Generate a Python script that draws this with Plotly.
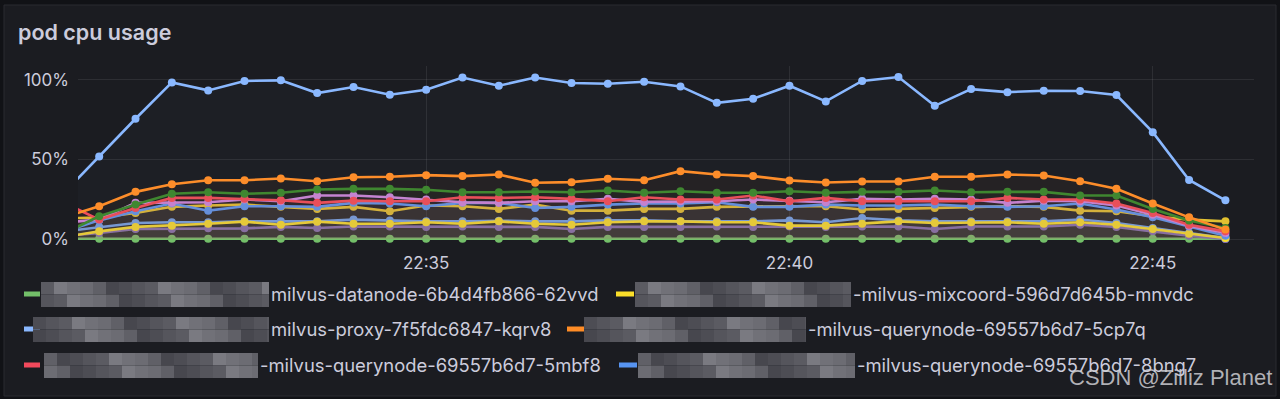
import plotly.graph_objects as go

# ---------------- data ----------------
times = [
    "2024-01-01 22:30:00", "2024-01-01 22:30:30", "2024-01-01 22:31:00", "2024-01-01 22:31:30",
    "2024-01-01 22:32:00", "2024-01-01 22:32:30", "2024-01-01 22:33:00", "2024-01-01 22:33:30",
    "2024-01-01 22:34:00", "2024-01-01 22:34:30", "2024-01-01 22:35:00", "2024-01-01 22:35:30",
    "2024-01-01 22:36:00", "2024-01-01 22:36:30", "2024-01-01 22:37:00", "2024-01-01 22:37:30",
    "2024-01-01 22:38:00", "2024-01-01 22:38:30", "2024-01-01 22:39:00", "2024-01-01 22:39:30",
    "2024-01-01 22:40:00", "2024-01-01 22:40:30", "2024-01-01 22:41:00", "2024-01-01 22:41:30",
    "2024-01-01 22:42:00", "2024-01-01 22:42:30", "2024-01-01 22:43:00", "2024-01-01 22:43:30",
    "2024-01-01 22:44:00", "2024-01-01 22:44:30", "2024-01-01 22:45:00", "2024-01-01 22:45:30",
    "2024-01-01 22:46:00",
]

datanode = [0.2, 0.2, 0.2, 0.2, 0.2, 0.2, 0.2, 0.2, 0.2, 0.2, 0.2, 0.2, 0.2, 0.2, 0.2, 0.2, 0.2,
            0.2, 0.2, 0.2, 0.2, 0.2, 0.2, 0.2, 0.2, 0.2, 0.2, 0.2, 0.2, 0.2, 0.2, 0.2, 0.2]
mixcoord = [1.2, 4.8, 7.6, 8.4, 9.6, 10.9, 9.0, 10.9, 9.6, 9.6, 10.5, 9.6, 11.1, 9.6, 9.0, 10.5, 11.1,
            11.1, 10.5, 10.5, 8.4, 8.4, 9.6, 11.1, 10.1, 10.5, 10.5, 9.6, 10.5, 9.0, 6.3, 3.3, 0.6]
proxy = [28.3, 51.8, 75.5, 98.3, 93.3, 99.2, 99.6, 91.6, 95.4, 90.6, 93.7, 101.4, 96.2, 101.4, 97.9, 97.5,
         98.7, 95.8, 85.5, 88.1, 96.2, 86.4, 99.2, 101.7, 83.6, 94.1, 92.2, 93.1, 92.9, 90.4, 67.1, 37.1, 24.3]
qn_5cp7q = [13.4, 20.6, 29.6, 34.4, 36.9, 36.9, 38.0, 36.3, 38.8, 39.1, 40.1, 39.5, 40.5, 35.3, 35.7, 37.8,
            36.9, 42.6, 40.5, 39.5, 36.8, 35.5, 36.1, 36.1, 39.1, 39.1, 40.5, 39.9, 36.3, 31.5, 22.3, 13.6, 5.9]
qn_5mbf8 = [23.1, 12.2, 19.5, 25.8, 25.8, 25.2, 24.3, 22.7, 24.1, 23.7, 23.7, 26.2, 25.8, 26.2, 25.2, 23.7,
            26.2, 24.8, 24.8, 27.3, 23.7, 25.8, 23.7, 23.7, 23.7, 23.7, 25.8, 24.8, 24.8, 22.3, 16.4, 9.0, 4.8]
qn_8bng7 = [4.5, 11.7, 17.4, 22.3, 17.8, 20.6, 20.6, 20.2, 22.7, 22.3, 20.6, 22.7, 22.7, 19.5, 20.2, 21.6,
            22.3, 22.3, 23.1, 20.2, 20.2, 21.6, 21.0, 21.0, 21.6, 20.6, 20.2, 20.6, 22.3, 18.5, 13.6, 7.9, 2.1]
s_dark_green = [3.3, 14.3, 21.6, 28.4, 29.4, 28.4, 29.0, 31.1, 31.5, 31.5, 30.9, 29.4, 29.4, 29.8, 29.4, 30.5,
                29.0, 30.0, 29.0, 29.0, 30.0, 29.0, 29.6, 29.6, 30.5, 29.4, 29.6, 29.6, 27.3, 27.3, 18.9, 11.7, 6.9]
s_violet = [10.3, 12.2, 22.7, 22.7, 23.1, 24.8, 23.7, 27.3, 27.3, 26.2, 24.8, 23.1, 22.7, 23.7, 23.7, 25.2,
            23.3, 23.7, 23.7, 24.8, 24.1, 23.1, 25.2, 24.8, 25.2, 24.8, 22.7, 24.1, 23.7, 21.0, 15.3, 8.4, 3.8]
s_dull_yellow = [13.0, 13.5, 16.4, 20.2, 21.0, 21.6, 20.2, 18.9, 20.2, 17.4, 21.0, 20.6, 18.9, 21.6, 17.8, 17.8,
                 18.9, 18.9, 20.2, 20.6, 20.6, 20.6, 18.5, 18.9, 19.5, 20.2, 20.6, 20.2, 17.8, 17.4, 14.3, 12.2, 11.1]
s_low_blue = [4.7, 7.6, 10.1, 10.5, 10.5, 11.1, 11.1, 11.1, 12.2, 11.7, 11.1, 11.1, 11.5, 11.1, 11.1, 11.7,
              11.7, 11.1, 11.1, 11.1, 11.7, 10.5, 13.2, 11.7, 11.1, 11.1, 11.1, 11.1, 12.2, 10.1, 6.9, 3.8, 0.6]
s_dark_purple = [1.9, 3.8, 6.3, 6.3, 6.7, 6.7, 7.6, 6.9, 7.9, 7.9, 7.6, 7.9, 7.6, 7.6, 6.3, 7.6,
                 7.6, 7.6, 7.9, 7.6, 7.9, 7.6, 7.9, 7.9, 6.3, 7.9, 7.9, 7.9, 9.0, 7.6, 4.8, 2.1, 0.0]

y_tick_vals = [0, 50, 100]
y_tick_text = ["0%", "50%", "100%"]

# draw order: first drawn = bottom
series = [
    ("milvus-datanode-6b4d4fb866-62vvd", datanode, "#73BF69"),
    ("series-dark-purple", s_dark_purple, "#7F66B3"),
    ("series-low-blue", s_low_blue, "#6C9FEF"),
    ("milvus-mixcoord-596d7d645b-mnvdc", mixcoord, "#FADE2A"),
    ("series-dull-yellow", s_dull_yellow, "#E3C12E"),
    ("milvus-querynode-69557b6d7-8bng7", qn_8bng7, "#5794F2"),
    ("series-violet", s_violet, "#C985E0"),
    ("milvus-querynode-69557b6d7-5mbf8", qn_5mbf8, "#F2495C"),
    ("series-dark-green", s_dark_green, "#37872D"),
    ("milvus-querynode-69557b6d7-5cp7q", qn_5cp7q, "#FF8C26"),
    ("milvus-proxy-7f5fdc6847-kqrv8", proxy, "#8AB8FF"),
]

legend_rows = [
    # (marker colour, visible label text)
    ("#73BF69", "milvus-datanode-6b4d4fb866-62vvd"),
    ("#FADE2A", "-milvus-mixcoord-596d7d645b-mnvdc"),
    ("#8AB8FF", "milvus-proxy-7f5fdc6847-kqrv8"),
    ("#FF8C26", "-milvus-querynode-69557b6d7-5cp7q"),
    ("#F2495C", "-milvus-querynode-69557b6d7-5mbf8"),
    ("#5794F2", "-milvus-querynode-69557b6d7-8bng7"),
]

# ---------------- layout geometry ----------------
W, H = 1280, 399
PL, PR, PT, PB = 78, 1254, 66, 243   # plot area in pixels
Y_MIN = -2.5
Y_MAX = Y_MIN + (PB - PT) / 1.593


def hex_rgba(h, a):
    h = h.lstrip("#")
    return f"rgba({int(h[0:2],16)},{int(h[2:4],16)},{int(h[4:6],16)},{a})"


def px(x):
    return (x - PL) / (PR - PL)


def py(y):
    return (PB - y) / (PB - PT)


fig = go.Figure()

for name, vals, col in series:
    alpha = 0.02 if name.startswith("milvus-proxy") else 0.04
    fig.add_trace(go.Scatter(
        x=times, y=vals, name=name, mode="lines+markers",
        line=dict(color=col, width=2.6),
        marker=dict(color=col, size=8),
        fill="tozeroy", fillcolor=hex_rgba(col, alpha),
        showlegend=False,
    ))

TEXT = "#ccccdc"
FONT = "Inter, Roboto, sans-serif"

shapes = []
annotations = []

# panel background
shapes.append(dict(type="rect", xref="paper", yref="paper",
                   x0=px(4), x1=px(1276), y0=py(396), y1=py(5),
                   fillcolor="#1b1c21", line=dict(color="#2a2b31", width=1), layer="below"))

# title
annotations.append(dict(text="pod cpu usage", xref="paper", yref="paper",
                        x=px(16), y=py(32), xanchor="left", yanchor="middle", showarrow=False,
                        font=dict(family=FONT, size=21.5, color=TEXT, weight=600)))

# legend (flow layout, 3 rows)
row_y = [294, 329, 365]
legend_pos = [
    # marker x0, marker x1, mosaic x0, mosaic x1, text x, row
    (24, 40, 41, 269, 269, 0),
    (616, 634, 635, 851, 851, 0),
    (24, 40, 33, 269, 269, 1),
    (567, 584, 584, 806, 806, 1),
    (24, 40, 44, 258, 258, 2),
    (619, 637, 638, 855, 855, 2),
]
shades = ["#5b5b62", "#6c6c73", "#4d4d54", "#7a7a81", "#606067", "#55555c", "#717178", "#47474e"]

for (col, label), (mx0, mx1, zx0, zx1, tx, r) in zip(legend_rows, legend_pos):
    yc = row_y[r]
    shapes.append(dict(type="rect", xref="paper", yref="paper",
                       x0=px(mx0), x1=px(mx1), y0=py(yc + 2.5), y1=py(yc - 2.5),
                       fillcolor=col, line=dict(width=0), layer="above"))
    # pixelated mosaic covering the hidden name prefix
    bw, bh = 13, 12.5
    nx = int((zx1 - zx0) / bw + 0.999)
    for j in range(2):
        for i in range(nx):
            x0 = zx0 + i * bw
            x1 = min(zx0 + (i + 1) * bw, zx1)
            shade = shades[(i * 3 + j * 5 + r * 2) % len(shades)]
            shapes.append(dict(type="rect", xref="paper", yref="paper",
                               x0=px(x0), x1=px(x1),
                               y0=py(yc - 12 + (j + 1) * bh), y1=py(yc - 12 + j * bh),
                               fillcolor=shade, line=dict(width=0), layer="above"))
    annotations.append(dict(text=label, xref="paper", yref="paper",
                            x=px(tx), y=py(yc), xanchor="left", yanchor="middle", showarrow=False,
                            font=dict(family=FONT, size=18.4, color=TEXT)))

# watermark
annotations.append(dict(text="CSDN @Zilliz Planet", xref="paper", yref="paper",
                        x=px(1274), y=py(377), xanchor="right", yanchor="middle", showarrow=False,
                        font=dict(family="Liberation Sans, Arial, sans-serif", size=22,
                                  color="rgba(205,205,210,0.85)")))

GRID = "rgba(204,204,220,0.10)"

fig.update_layout(
    width=W, height=H, autosize=False,
    margin=dict(l=PL, r=W - PR, t=PT, b=H - PB, pad=0),
    paper_bgcolor="#111216", plot_bgcolor="rgba(0,0,0,0)",
    shapes=shapes, annotations=annotations,
    showlegend=False,
    xaxis=dict(type="date", range=["2024-01-01 22:30:12.5", "2024-01-01 22:46:23.6"],
               tickformat="%H:%M", dtick=300000, tick0="2024-01-01 22:35:00",
               showgrid=True, gridcolor=GRID, gridwidth=1, zeroline=False, showline=False,
               ticks="", ticklabelstandoff=8,
               tickfont=dict(family=FONT, size=17, color=TEXT)),
    yaxis=dict(range=[Y_MIN, Y_MAX], tickvals=y_tick_vals, ticktext=y_tick_text,
               showgrid=True, gridcolor=GRID, gridwidth=1, zeroline=False, showline=False,
               ticks="", ticklabelstandoff=8,
               tickfont=dict(family=FONT, size=17, color=TEXT)),
)

fig.write_html(
    "out.html",
    config={"displayModeBar": False},
    post_script="document.body.style.margin='0';document.body.style.padding='0';"
                "document.body.style.overflow='hidden';document.body.style.background='#111216';",
)
